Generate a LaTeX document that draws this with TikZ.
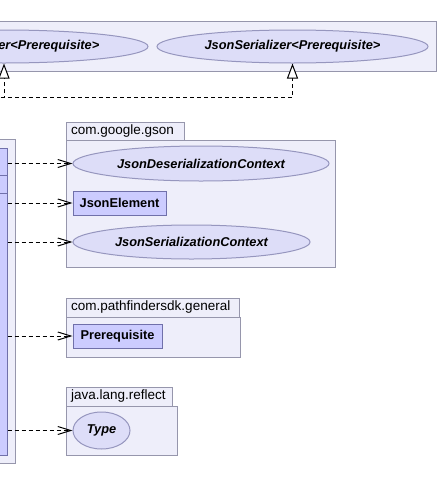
\documentclass[tikz,border=0pt]{standalone}
\usepackage{fontspec}
\setmainfont{Liberation Sans}
\usetikzlibrary{positioning,arrows.meta,shapes.geometric}
\definecolor{pkgfill}{RGB}{238,238,250}
\definecolor{pkgline}{RGB}{150,150,172}
\definecolor{clsfill}{RGB}{204,204,255}
\definecolor{clsline}{RGB}{112,112,170}
\definecolor{iffill}{RGB}{221,221,248}
\definecolor{ifline}{RGB}{150,150,190}
\tikzset{
  pkg/.style={draw=pkgline, fill=pkgfill, line width=1pt},
  pkglabel/.style={anchor=west, inner sep=0pt, font=\fontsize{13.5}{15}\selectfont},
  clsbox/.style={rectangle, draw=clsline, fill=clsfill, line width=1pt, inner sep=0pt,
                 font=\fontsize{12.8}{14}\selectfont\bfseries},
  iface/.style={ellipse, draw=ifline, fill=iffill, line width=1pt, inner sep=0pt,
                font=\fontsize{12.8}{14}\selectfont\bfseries\itshape},
  dep/.style={-{Straight Barb[length=13pt,width=8pt]}, line width=1pt, dash pattern=on 4pt off 3pt},
  realize/.style={-{Triangle[open,length=15pt,width=11pt,fill=white]}, line width=1pt,
                  dash pattern=on 4pt off 3pt},
}
\begin{document}
\begin{tikzpicture}[x=1pt,y=-1pt]
  \clip (0,0) rectangle (439,501);

  % top package with the two interfaces
  \draw[pkg] (-20,21) rectangle (436,71);
  \node[iface, minimum width=288pt, minimum height=33pt] (deser) at (4,46.5) {JsonDeserializer<Prerequisite>};
  \node[iface, minimum width=271pt, minimum height=33pt] (ser) at (292.5,46.5) {JsonSerializer<Prerequisite>};

  % left package with the class
  \draw[pkg] (-20,139) rectangle (15,463);
  \node[clsbox, minimum width=107pt, minimum height=307pt] (impl) at (-46.5,301.5) {};
  \draw[clsline, line width=1pt] (impl.west |- 0,175) -- (impl.east |- 0,175);
  \draw[clsline, line width=1pt] (impl.west |- 0,193) -- (impl.east |- 0,193);

  % com.google.gson
  \draw[pkg] (66,122) rectangle (184,140);
  \draw[pkg] (66,140) rectangle (335,267);
  \node[pkglabel] (gsonlbl) at (71,131) {com.google.gson};
  \node[iface, minimum width=256pt, minimum height=35pt] (dctx) at (201,163.5) {JsonDeserializationContext};
  \node[clsbox, minimum width=93pt, minimum height=24pt] (elem) at (119.5,203) {JsonElement};
  \node[iface, minimum width=237pt, minimum height=34pt] (sctx) at (191.5,242) {JsonSerializationContext};

  % com.pathfindersdk.general
  \draw[pkg] (66,298) rectangle (239,317);
  \draw[pkg] (66,317) rectangle (240,357);
  \node[pkglabel] (genlbl) at (71,307.5) {com.pathfindersdk.general};
  \node[clsbox, minimum width=89pt, minimum height=24pt] (prereq) at (117.5,336) {Prerequisite};

  % java.lang.reflect
  \draw[pkg] (66,387) rectangle (172,406);
  \draw[pkg] (66,406) rectangle (177,455);
  \node[pkglabel] (refllbl) at (71,396.5) {java.lang.reflect};
  \node[iface, minimum width=57pt, minimum height=37pt] (type) at (101.5,430.5) {Type};

  \coordinate (trunk) at (-20,97);
  \draw[realize] (trunk) -| (deser.south);
  \draw[realize] (trunk) -| (ser.south);

  \draw[dep] (impl.east |- dctx) -- (dctx);
  \draw[dep] (impl.east |- elem) -- (elem);
  \draw[dep] (impl.east |- sctx) -- (sctx);
  \draw[dep] (impl.east |- prereq) -- (prereq);
  \draw[dep] (impl.east |- type) -- (type);
\end{tikzpicture}
\end{document}
